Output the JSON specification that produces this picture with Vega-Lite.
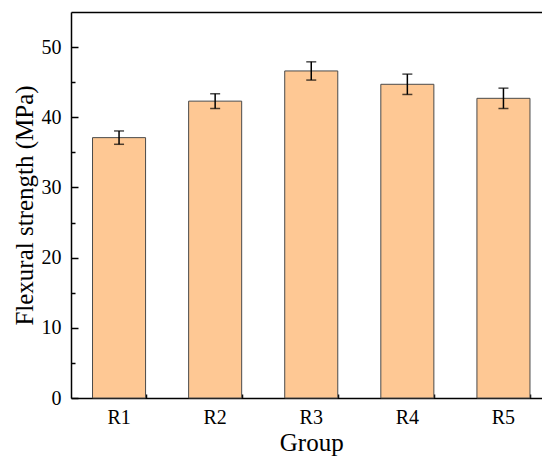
{
  "$schema": "https://vega.github.io/schema/vega-lite/v6.json",
  "width": 471,
  "height": 386,
  "autosize": {"type": "none"},
  "padding": {"left": 71, "top": 12, "right": 0, "bottom": 59},
  "background": "white",
  "config": {
    "view": {"stroke": null},
    "font": "Liberation Serif",
    "axis": {
      "labelFont": "Liberation Serif",
      "titleFont": "Liberation Serif",
      "labelColor": "black",
      "titleColor": "black",
      "domainColor": "black",
      "tickColor": "black",
      "grid": false,
      "labelFontSize": 20,
      "titleFontSize": 25,
      "titleFontWeight": "normal",
      "domainWidth": 1.5,
      "tickWidth": 1.5
    }
  },
  "data": {
    "values": [
      {"group": "R1", "strength": 37.1, "sd": 0.95},
      {"group": "R2", "strength": 42.3, "sd": 1.05},
      {"group": "R3", "strength": 46.6, "sd": 1.3},
      {"group": "R4", "strength": 44.7, "sd": 1.45},
      {"group": "R5", "strength": 42.7, "sd": 1.45}
    ]
  },
  "resolve": {"axis": {"x": "independent", "y": "independent"}},
  "layer": [
    {
      "mark": {"type": "bar", "fill": "#FEC894", "stroke": "#4a4a4a", "strokeWidth": 1},
      "encoding": {
        "x": {
          "field": "group",
          "type": "nominal",
          "sort": null,
          "scale": {"type": "band", "range": [0, 480.5], "paddingInner": 0.448, "paddingOuter": 0.224},
          "axis": {
            "orient": "bottom",
            "title": "Group",
            "labelAngle": 0,
            "tickSize": -8,
            "labelPadding": 17,
            "titlePadding": 3
          }
        },
        "y": {
          "field": "strength",
          "type": "quantitative",
          "scale": {"domain": [0, 55], "nice": false, "zero": true},
          "axis": {
            "orient": "left",
            "title": "Flexural strength (MPa)",
            "values": [0, 5, 10, 15, 20, 25, 30, 35, 40, 45, 50],
            "labelExpr": "datum.value % 10 === 0 ? datum.label : ''",
            "tickSize": {"condition": {"test": "datum.value % 10 === 0", "value": -7}, "value": -4},
            "labelPadding": 17,
            "titlePadding": 4
          }
        }
      }
    },
    {
      "mark": {
        "type": "errorbar",
        "ticks": {"size": 10, "thickness": 1.5, "color": "black"},
        "rule": {"strokeWidth": 1.5, "color": "black"}
      },
      "encoding": {
        "x": {
          "field": "group",
          "type": "nominal",
          "sort": null,
          "scale": {"type": "band", "range": [0, 480.5], "paddingInner": 0.448, "paddingOuter": 0.224},
          "axis": null
        },
        "y": {"field": "strength", "type": "quantitative", "scale": {"domain": [0, 55], "nice": false}, "axis": null},
        "yError": {"field": "sd"}
      }
    },
    {
      "mark": {"type": "point", "opacity": 0},
      "encoding": {
        "x": {
          "field": "group",
          "type": "nominal",
          "sort": null,
          "scale": {"type": "band", "range": [0, 480.5], "paddingInner": 0.448, "paddingOuter": 0.224},
          "axis": {"orient": "bottom", "tickBand": "extent", "tickSize": -4, "labels": false, "domain": false, "title": null}
        },
        "y": {"field": "strength", "type": "quantitative", "scale": {"domain": [0, 55], "nice": false}, "axis": null}
      }
    },
    {
      "mark": {"type": "point", "opacity": 0},
      "encoding": {
        "x": {
          "field": "group",
          "type": "nominal",
          "sort": null,
          "scale": {"type": "band", "range": [0, 480.5], "paddingInner": 0.448, "paddingOuter": 0.224},
          "axis": {"orient": "top", "ticks": false, "labels": false, "domain": true, "title": null}
        },
        "y": {"field": "strength", "type": "quantitative", "scale": {"domain": [0, 55], "nice": false}, "axis": null}
      }
    }
  ]
}
